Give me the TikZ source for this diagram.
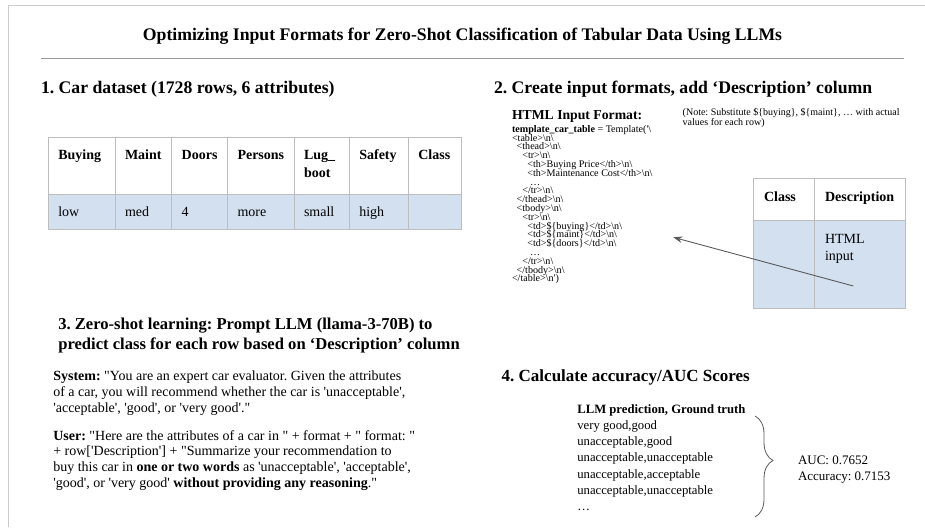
\documentclass[tikz,border=0pt]{standalone}
\usepackage{fontspec}
\setmainfont{Liberation Serif}
\usetikzlibrary{arrows.meta,decorations.pathreplacing}
\frenchspacing
\newcommand\sqt{\textquotesingle}
\newcommand\dqt{\textquotedbl}
\newcommand\lnend{\textbackslash n\textbackslash}
\definecolor{cellblue}{HTML}{D3E0F0}
\definecolor{cellline}{HTML}{BDBDBD}
\definecolor{framegray}{HTML}{CCCCCC}
\definecolor{rulegray}{HTML}{999999}
\definecolor{arrowgray}{HTML}{5A5A5A}
\begin{document}
\begin{tikzpicture}[x=1pt,y=-1pt,
  txt/.style={anchor=base west,inner sep=0pt,outer sep=0pt},
  heading/.style={txt,font=\fontsize{17.7}{20}\selectfont\bfseries},
  cell/.style={txt,font=\fontsize{14}{16}\selectfont},
  cellhead/.style={cell,font=\fontsize{14}{16}\selectfont\bfseries},
  code/.style={txt,font=\fontsize{10.1}{9}\selectfont},
  body/.style={txt,font=\fontsize{14}{16}\selectfont},
  small/.style={txt,font=\fontsize{12.7}{14}\selectfont},
  gridline/.style={draw=cellline,line width=1pt},
]
\useasboundingbox (0,0) rectangle (925,527);

% page frame and title rule
\draw[framegray,line width=1pt] (8.5,527) -- (8.5,5.5) -- (925,5.5);
\node[anchor=base,inner sep=0pt,font=\fontsize{17.7}{20}\selectfont\bfseries] (title) at (462.5,41)
  {Optimizing Input Formats for Zero-Shot Classification of Tabular Data Using LLMs};
\draw[rulegray,line width=1.6pt] (41,58.5) -- (904,58.5);

% ---- 1. dataset ----
\node[heading] (h1) at (41,93) {1. Car dataset (1728 rows, 6 attributes)};
\fill[cellblue] (48.3,194) rectangle (461.7,229);
\draw[gridline] (48.3,137.3) rectangle (461.7,229);
\draw[gridline] (48.3,194) -- (461.7,194);
\foreach \cx in {115,171.7,227.7,294,349.3,408.3}
  \draw[gridline] (\cx,137.3) -- (\cx,229);
\node[cellhead] (t1a) at (58.3,159.5) {Buying};
\node[cellhead] (t1b) at (125,159.5) {Maint};
\node[cellhead] (t1c) at (181.7,159.5) {Doors};
\node[cellhead] (t1d) at (237.5,159.5) {Persons};
\node[cellhead] (t1e) at (304,159.5) {Lug\_};
\node[cellhead] (t1e2) at (304,177.5) {boot};
\node[cellhead] (t1f) at (359.3,159.5) {Safety};
\node[cellhead] (t1g) at (418.3,159.5) {Class};
\node[cell] (v1a) at (58.3,216.5) {low};
\node[cell] (v1b) at (125,216.5) {med};
\node[cell] (v1c) at (181.7,216.5) {4};
\node[cell] (v1d) at (237.5,216.5) {more};
\node[cell] (v1e) at (304,216.5) {small};
\node[cell] (v1f) at (359.3,216.5) {high};

% ---- 2. input formats ----
\node[heading] (h2) at (494,93) {2. Create input formats, add ‘Description’ column};
\node[txt,font=\fontsize{13.7}{15}\selectfont\bfseries] (fmt) at (512,119) {HTML Input Format:};
\node[code] (c0)  at (512,132.2) {\textbf{template\_car\_table} = Template(\sqt\textbackslash};
\node[code] (c1)  at (512,141.0) {<table>\lnend};
\node[code] (c2)  at (516.7,149.8) {<thead>\lnend};
\node[code] (c3)  at (522.3,158.6) {<tr>\lnend};
\node[code] (c4)  at (527.3,167.4) {<th>Buying Price</th>\lnend};
\node[code] (c5)  at (527.3,176.2) {<th>Maintenance Cost</th>\lnend};
\node[code] (c6)  at (530,185.0) {…};
\node[code] (c7)  at (522.3,193.8) {</tr>\lnend};
\node[code] (c8)  at (516.7,202.6) {</thead>\lnend};
\node[code] (c9)  at (516.7,211.4) {<tbody>\lnend};
\node[code] (c10) at (522.3,220.2) {<tr>\lnend};
\node[code] (c11) at (527.3,229.0) {<td>\$\{buying\}</td>\lnend};
\node[code] (c12) at (527.3,237.8) {<td>\$\{maint\}</td>\lnend};
\node[code] (c13) at (527.3,246.6) {<td>\$\{doors\}</td>\lnend};
\node[code] (c14) at (530,255.4) {…};
\node[code] (c15) at (522.3,264.2) {</tr>\lnend};
\node[code] (c16) at (516.7,273.0) {</tbody>\lnend};
\node[code] (c17) at (512,281.8) {</table>\textbackslash n\sqt)};

\node[txt,font=\fontsize{10}{10}\selectfont] (note1) at (682.7,115.5)
  {(Note: Substitute \$\{buying\}, \$\{maint\}, … with actual};
\node[txt,font=\fontsize{10}{10}\selectfont] (note2) at (682.7,125.5)
  {values for each row)};

\fill[cellblue] (753.3,220.7) rectangle (905,308.3);
\draw[gridline] (753.3,178.3) rectangle (905,308.3);
\draw[gridline] (753.3,220.7) -- (905,220.7);
\draw[gridline] (814,178.3) -- (814,308.3);
\node[cellhead] (t2a) at (764,201.7) {Class};
\node[cellhead] (t2b) at (825,201.7) {Description};
\node[cell] (t2c) at (825,243.3) {HTML};
\node[cell] (t2d) at (825,260) {input};

\coordinate (arrowfrom) at (853.3,286);
\coordinate (arrowto) at (673.3,237.3);
\draw[arrowgray,line width=0.9pt,-{Stealth[length=9pt,width=6.5pt]}] (arrowfrom) -- (arrowto);

% ---- 3. prompting ----
\node[heading,font=\fontsize{16.6}{20}\selectfont\bfseries] (h3a) at (58.3,329) {3. Zero-shot learning: Prompt LLM (llama-3-70B) to};
\node[heading,font=\fontsize{16.6}{20}\selectfont\bfseries] (h3b) at (58.3,349) {predict class for each row based on ‘Description’ column};

\node[body] (s1) at (53.3,380.7) {\textbf{System:} \dqt You are an expert car evaluator. Given the attributes};
\node[body] (s2) at (53.3,396.5) {of a car, you will recommend whether the car is \sqt unacceptable\sqt,};
\node[body] (s3) at (53.3,412.3) {\sqt acceptable\sqt, \sqt good\sqt, or \sqt very good\sqt.\dqt};
\node[body] (u1) at (53.3,440) {\textbf{User:} \dqt Here are the attributes of a car in \dqt{} + format + \dqt{} format: \dqt};
\node[body] (u2) at (53.3,455.8) {+ row[\sqt Description\sqt] + \dqt Summarize your recommendation to};
\node[body] (u3) at (53.3,471.6) {buy this car in \textbf{one or two words} as \sqt unacceptable\sqt, \sqt acceptable\sqt,};
\node[body] (u4) at (53.3,487.4) {\sqt good\sqt, or \sqt very good\sqt{} \textbf{without providing any reasoning}.\dqt};

% ---- 4. scores ----
\node[heading,font=\fontsize{17}{20}\selectfont\bfseries] (h4) at (501.7,381) {4. Calculate accuracy/AUC Scores};
\node[small,font=\fontsize{12.7}{14}\selectfont\bfseries] (p0) at (577.3,413) {LLM prediction, Ground truth};
\node[small] (p1) at (577.3,429.5) {very good,good};
\node[small] (p2) at (577.3,445.7) {unacceptable,good};
\node[small] (p3) at (577.3,461.9) {unacceptable,unacceptable};
\node[small] (p4) at (577.3,478.1) {unacceptable,acceptable};
\node[small] (p5) at (577.3,494.3) {unacceptable,unacceptable};
\node[small] (p6) at (577.3,510.5) {…};

\coordinate (bracetop) at (755,416);
\coordinate (bracebot) at (755,517);
\draw[arrowgray,line width=0.8pt,decorate,decoration={brace,amplitude=18pt,aspect=0.44}]
  (bracetop) -- (bracebot);
\node[txt,font=\fontsize{13}{15}\selectfont] (auc) at (798,464.5) {AUC: 0.7652};
\node[txt,font=\fontsize{13}{15}\selectfont] (acc) at (798,480.5) {Accuracy: 0.7153};
\end{tikzpicture}
\end{document}
